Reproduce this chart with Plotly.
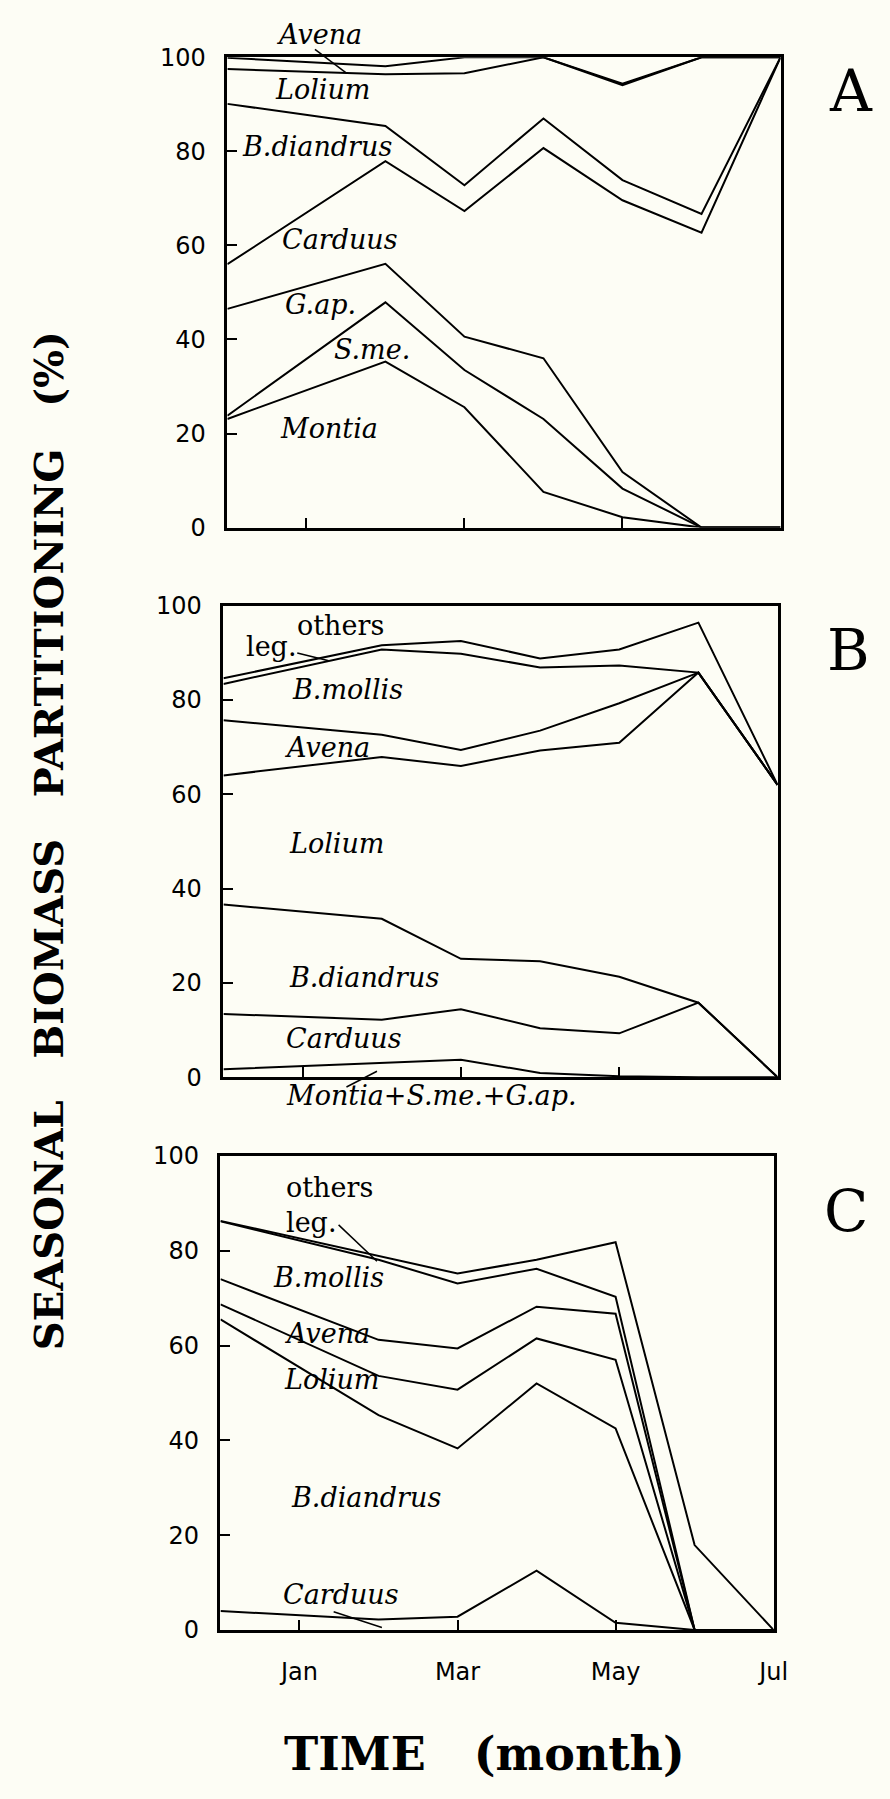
import plotly.graph_objects as go

W, H = 890, 1799
BG = "#fdfdf5"

# x positions: months from December (0) to July (7)
months_x = [0, 2, 3, 4, 5, 6, 7]  # Dec, Feb, Mar, Apr, May, Jun, Jul
tick_vals = [1, 3, 5, 7]
tick_text = ["Jan", "Mar", "May", "Jul"]
y_ticks = [0, 20, 40, 60, 80, 100]

# ---- Panel A: cumulative upper boundaries (%) ----
A_montia = [23.1, 35.3, 25.6, 7.6, 2.2, 0, 0]
A_sme = [23.8, 47.9, 33.5, 23.1, 8.3, 0, 0]
A_gap = [46.5, 56.1, 40.6, 36.0, 11.8, 0, 0]
A_carduus = [56.0, 77.9, 67.3, 80.7, 69.6, 62.7, 100]
A_bdiandrus = [90.1, 85.4, 72.8, 87.0, 73.9, 66.7, 100]
A_lolium = [97.5, 96.4, 96.6, 100, 94.1, 100, 100]
A_avena = [99.9, 98.1, 100, 100, 94.4, 100, 100]

# ---- Panel B ----
B_montia_sme_gap = [1.7, 3.0, 3.7, 0.9, 0.2, 0, 0]
B_carduus = [13.4, 12.2, 14.4, 10.4, 9.3, 15.8, 0]
B_bdiandrus = [36.6, 33.6, 25.1, 24.6, 21.3, 15.8, 0]
B_lolium = [64.0, 67.9, 66.0, 69.3, 70.9, 85.8, 62]
B_avena = [75.7, 72.6, 69.4, 73.5, 79.3, 85.8, 62]
B_bmollis = [83.4, 90.7, 89.8, 86.9, 87.3, 85.8, 62]
B_leg = [84.6, 91.6, 92.5, 88.8, 90.7, 96.4, 62]

# ---- Panel C ----
C_carduus = [4.0, 2.2, 2.8, 12.5, 1.5, 0, 0]
C_bdiandrus = [65.5, 45.3, 38.3, 52.0, 42.5, 0, 0]
C_lolium = [68.7, 53.6, 50.7, 61.5, 57.0, 0, 0]
C_avena = [74.0, 61.2, 59.4, 68.2, 66.7, 0, 0]
C_bmollis = [86.2, 78.1, 73.1, 76.2, 70.3, 0, 0]
C_leg = [86.3, 78.8, 75.2, 78.1, 81.8, 17.9, 0]

panels = [
    ("x", "y", [A_montia, A_sme, A_gap, A_carduus, A_bdiandrus, A_lolium, A_avena]),
    ("x2", "y2", [B_montia_sme_gap, B_carduus, B_bdiandrus, B_lolium, B_avena, B_bmollis, B_leg]),
    ("x3", "y3", [C_carduus, C_bdiandrus, C_lolium, C_avena, C_bmollis, C_leg]),
]

def PX(px):
    return px / W

def PY(py):
    return 1 - py / H

fig = go.Figure()
for xa, ya, series in panels:
    for s in series:
        fig.add_trace(go.Scatter(x=months_x, y=s, mode="lines", xaxis=xa, yaxis=ya,
                                 line=dict(color="black", width=2), showlegend=False,
                                 hoverinfo="skip", cliponaxis=True))

# panel pixel frames (left, right, top, bottom)
frames = {
    "1": (231, 793, 44, 521.7),
    "2": (227, 790, 601, 1080),
    "3": (224, 786, 1160, 1641.5),
}

tickfont = dict(family="DejaVu Sans", size=24, color="black")
layout = dict(
    width=W, height=H, margin=dict(l=0, r=0, t=0, b=0),
    paper_bgcolor=BG, plot_bgcolor=BG, showlegend=False,
)
for k, (l, r, t, b) in frames.items():
    xn = "xaxis" if k == "1" else "xaxis" + k
    yn = "yaxis" if k == "1" else "yaxis" + k
    anchor_y = "y" if k == "1" else "y" + k
    anchor_x = "x" if k == "1" else "x" + k
    layout[xn] = dict(domain=[PX(l), PX(r)], anchor=anchor_y, range=[0, 7],
                      tickvals=tick_vals, ticktext=tick_text if k == "3" else ["", "", "", ""],
                      ticks="inside", ticklen=10, tickwidth=2, tickcolor="black",
                      showline=True, linecolor="black", linewidth=2.5, mirror=True,
                      showgrid=False, zeroline=False, tickfont=tickfont,
                      ticklabelstandoff=18)
    layout[yn] = dict(domain=[PY(b), PY(t)], anchor=anchor_x, range=[0, 100],
                      tickvals=y_ticks, ticks="inside", ticklen=10, tickwidth=2,
                      tickcolor="black", showline=True, linecolor="black", linewidth=2.5,
                      mirror=True, showgrid=False, zeroline=False, tickfont=tickfont,
                      ticklabelstandoff=14)
fig.update_layout(**layout)

ital = dict(family="DejaVu Serif", size=27, color="black", style="italic")
roman = dict(family="DejaVu Serif", size=27, color="black")

labels = [
    # panel A
    ("Avena", 324, 21, ital), ("Lolium", 328, 77, ital), ("B.diandrus", 322, 135, ital),
    ("Carduus", 345, 229, ital), ("G.ap.", 326, 295, ital), ("S.me.", 378, 341, ital),
    ("Montia", 334, 421, ital),
    # panel B
    ("others", 346, 621, roman), ("leg.", 275, 642, roman), ("B.mollis", 353, 686, ital),
    ("Avena", 332, 745, ital), ("Lolium", 342, 843, ital), ("B.diandrus", 370, 979, ital),
    ("Carduus", 350, 1041, ital), ("Montia+S.me.+G.ap.", 438, 1099, ital),
    # panel C
    ("others", 335, 1192, roman), ("leg.", 316, 1228, roman), ("B.mollis", 334, 1283, ital),
    ("Avena", 332, 1340, ital), ("Lolium", 337, 1387, ital), ("B.diandrus", 372, 1507, ital),
    ("Carduus", 346, 1605, ital),
]
for txt, x, y, f in labels:
    fig.add_annotation(text=txt, x=PX(x), y=PY(y), xref="paper", yref="paper",
                       xanchor="center", yanchor="middle", showarrow=False, font=f)

pointers = [
    ((320, 36), (352, 60)),
    ((302, 649), (334, 657)),
    ((352, 1090), (383, 1074)),
    ((344, 1230), (383, 1267)),
    ((339, 1623), (388, 1639)),
]
for (x0, y0), (x1, y1) in pointers:
    fig.add_shape(type="line", xref="paper", yref="paper", x0=PX(x0), y0=PY(y0),
                  x1=PX(x1), y1=PY(y1), line=dict(color="black", width=1.5))

for txt, x, y in [("A", 865, 78), ("B", 862, 646), ("C", 860, 1216)]:
    fig.add_annotation(text=txt, x=PX(x), y=PY(y), xref="paper", yref="paper",
                       xanchor="center", yanchor="middle", showarrow=False,
                       font=dict(family="DejaVu Serif", size=58, color="black"))

SP3 = "\u00a0\u00a0\u00a0"
fig.add_annotation(text="SEASONAL" + SP3 + "BIOMASS" + SP3 + "PARTITIONING" + SP3 + "(%)",
                   x=PX(50), y=PY(840), xref="paper", yref="paper",
                   xanchor="center", yanchor="middle", textangle=-90, showarrow=False,
                   font=dict(family="DejaVu Serif", size=40, color="black", weight="bold"))
fig.add_annotation(text="TIME" + SP3 + "(month)", x=PX(492), y=PY(1768),
                   xref="paper", yref="paper", xanchor="center", yanchor="middle",
                   showarrow=False,
                   font=dict(family="DejaVu Serif", size=46, color="black", weight="bold"))

fig.write_html("out.html", config={"displayModeBar": False},
               post_script="document.body.style.margin='0';"
                           "document.body.style.background='" + BG + "';")
